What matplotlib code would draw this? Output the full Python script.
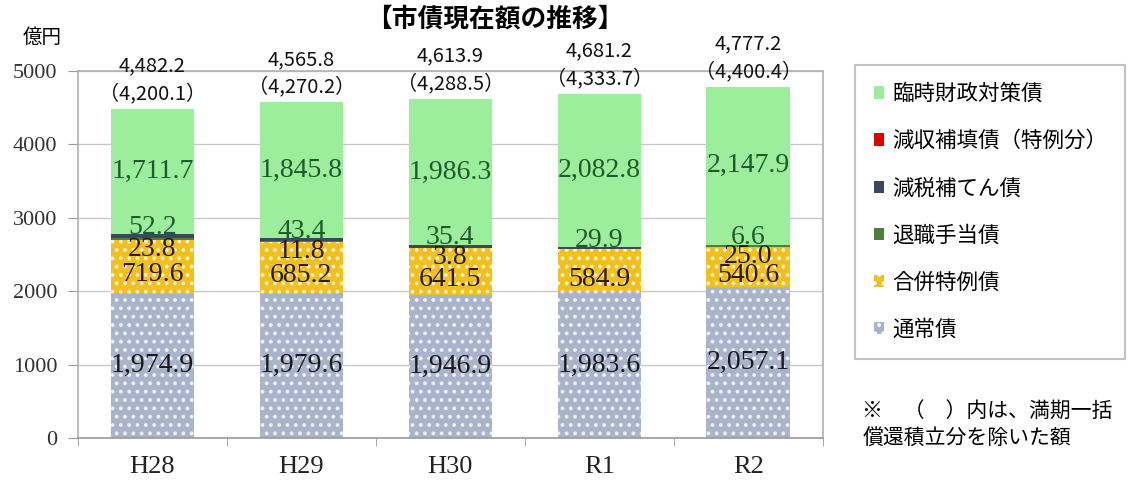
import matplotlib
matplotlib.use("Agg")
import matplotlib.pyplot as plt
from matplotlib.patches import Patch
import numpy as np

# --- data (億円) ---
years = ["H28", "H29", "H30", "R1", "R2"]
tsujo = [1974.9, 1979.6, 1946.9, 1983.6, 2057.1]          # 通常債
gappei = [719.6, 685.2, 641.5, 584.9, 540.6]              # 合併特例債
taishoku = [23.8, 11.8, 3.8, 0.0, 25.0]                   # 退職手当債
genzei = [52.2, 43.4, 35.4, 29.9, 6.6]                    # 減税補てん債
genshu = [0.0, 0.0, 0.0, 0.0, 0.0]                        # 減収補填債（特例分）
rinji = [1711.7, 1845.8, 1986.3, 2082.8, 2147.9]          # 臨時財政対策債
totals = ["4,482.2", "4,565.8", "4,613.9", "4,681.2", "4,777.2"]
totals_excl = ["4,200.1", "4,270.2", "4,288.5", "4,333.7", "4,400.4"]
yticks = [0, 1000, 2000, 3000, 4000, 5000]

CJK = ["Noto Sans CJK JP", "DejaVu Sans"]
SERIF = ["Liberation Serif", "DejaVu Serif"]
NARROW = ["Liberation Sans Narrow", "Noto Sans CJK JP", "DejaVu Sans"]
plt.rcParams["hatch.linewidth"] = 1.6

c_tsujo = "#a9b4cc"
c_gappei = "#f2c01e"
c_taishoku = "#4f7f3a"
c_genzei = "#3b4660"
c_genshu = "#e00000"
c_rinji = "#9ced9c"

fig = plt.figure(figsize=(11.3, 4.83), dpi=100)
ax = fig.add_axes([0.069, 0.093, 0.659, 0.761])

x = np.arange(len(years))
w = 0.56
b0 = np.zeros(len(years))


def stack(vals, color, hatch=None, hatch_alpha=0.8):
    global b0
    v = np.array(vals)
    ax.bar(x, v, w, bottom=b0, color=color, linewidth=0, zorder=2)
    if hatch:
        ax.bar(x, v, w, bottom=b0, facecolor="none", edgecolor="white",
               hatch=hatch, linewidth=0, alpha=hatch_alpha, zorder=3)
    prev = b0.copy()
    b0 = b0 + v
    return prev, b0.copy()


t_lo, t_hi = stack(tsujo, c_tsujo, "..", 0.75)
g_lo, g_hi = stack(gappei, c_gappei, "..", 0.7)
k_lo, k_hi = stack(taishoku, c_taishoku)
z_lo, z_hi = stack(genzei, c_genzei)
s_lo, s_hi = stack(genshu, c_genshu)
r_lo, r_hi = stack(rinji, c_rinji)

ax.set_xlim(-0.5, len(years) - 0.5)
ax.set_ylim(0, 5000)
ax.set_yticks(yticks)
ax.set_yticklabels([str(v) for v in yticks], family=SERIF, fontsize=16, color="#333333")
ax.set_xticks(x)
ax.set_xticklabels(years, family=SERIF, fontsize=19, color="#222222")
ax.set_xticks(np.arange(len(years) + 1) - 0.5, minor=True)
ax.tick_params(axis="x", which="major", length=0, pad=13)
ax.tick_params(axis="x", which="minor", length=6, color="#999999", direction="out")
ax.tick_params(axis="y", length=7, color="#999999", direction="out", pad=8)
ax.grid(axis="y", color="#c8c8c8", linewidth=1.0, zorder=0)
ax.set_axisbelow(True)
for s in ax.spines.values():
    s.set_color("#b0b0b0")
    s.set_linewidth(1.2)
ax.spines["bottom"].set_color("#999999")

lab_kw = dict(family=SERIF, fontsize=20, ha="center")

for i in range(len(years)):
    # 通常債
    ax.text(x[i], (t_lo[i] + t_hi[i]) / 2, f"{tsujo[i]:,.1f}", va="center",
            color="#1a1a1a", zorder=5, **lab_kw)
    # 合併特例債
    ax.annotate(f"{gappei[i]:,.1f}", (x[i], (g_lo[i] + g_hi[i]) / 2),
                xytext=(0, -6), textcoords="offset points", va="center",
                color="#2a1a00", zorder=5, **lab_kw)
    # 退職手当債
    if taishoku[i] > 0:
        ax.annotate(f"{taishoku[i]:,.1f}", (x[i], g_hi[i]),
                    xytext=(0, -7), textcoords="offset points", va="center",
                    color="#2a1a00", zorder=5, **lab_kw)
    # 減税補てん債
    if genzei[i] > 0:
        ax.annotate(f"{genzei[i]:,.1f}", (x[i], r_lo[i]),
                    xytext=(0, -4), textcoords="offset points", va="bottom",
                    color="#1f5a2c", zorder=5, **lab_kw)
    # 臨時財政対策債
    ax.text(x[i], (r_lo[i] + r_hi[i]) / 2, f"{rinji[i]:,.1f}", va="center",
            color="#1f5a2c", zorder=5, **lab_kw)
    # 合計
    ax.annotate(f"（{totals_excl[i]}）", (x[i], r_hi[i]), xytext=(0, 11),
                textcoords="offset points", ha="center", va="center",
                family=NARROW, fontsize=14.5, color="#111111", annotation_clip=False)
    ax.annotate(totals[i], (x[i], r_hi[i]), xytext=(0, 31),
                textcoords="offset points", ha="center", va="center",
                family=NARROW, fontsize=14.5, color="#111111", annotation_clip=False)

fig.text(0.438, 0.960, "【市債現在額の推移】", family=CJK, fontsize=18.5,
         fontweight="bold", ha="center", va="center")
fig.text(0.037, 0.922, "億円", family=CJK, fontsize=14, ha="center", va="center")

handles = [
    Patch(facecolor=c_rinji, label="臨時財政対策債"),
    Patch(facecolor=c_genshu, label="減収補填債（特例分）"),
    Patch(facecolor=c_genzei, label="減税補てん債"),
    Patch(facecolor=c_taishoku, label="退職手当債"),
    Patch(facecolor=c_gappei, edgecolor="white", hatch="..", linewidth=0, label="合併特例債"),
    Patch(facecolor=c_tsujo, edgecolor="white", hatch="..", linewidth=0, label="通常債"),
]
leg = fig.legend(handles=handles, loc="upper left", bbox_to_anchor=(0.757, 0.866),
                 prop={"family": CJK, "size": 15.5}, frameon=True, fancybox=False,
                 edgecolor="#b5b5b5", handlelength=0.5, handleheight=0.5,
                 handletextpad=0.35, labelspacing=1.17, borderpad=0.85,
                 borderaxespad=0)
leg.get_frame().set_linewidth(1.5)

fig.text(0.763, 0.148, "※　（　）内は、満期一括", family=CJK, fontsize=15,
         ha="left", va="center")
fig.text(0.763, 0.094, "償還積立分を除いた額", family=CJK, fontsize=15,
         ha="left", va="center")

fig.savefig("out.png", dpi=100)
